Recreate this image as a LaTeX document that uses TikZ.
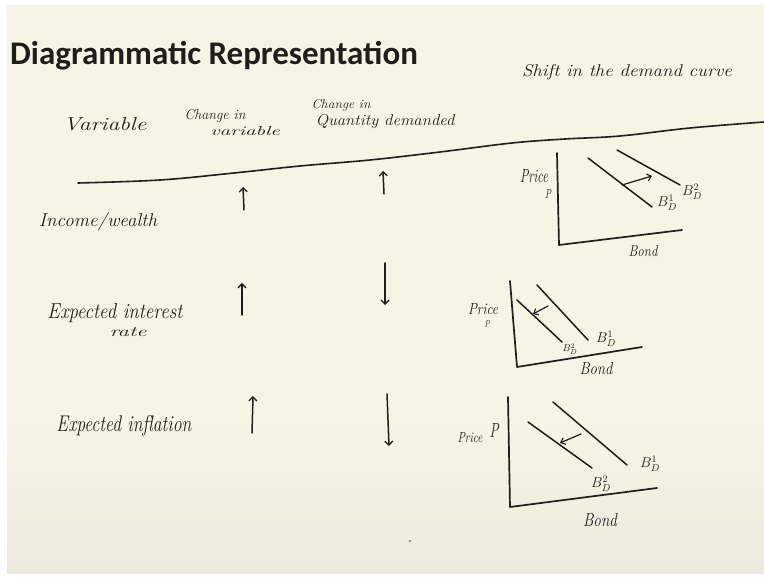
\documentclass[tikz,border=0pt]{standalone}
\usepackage{fontspec}
\usepackage{graphicx}
\newfontfamily\titlefont{Carlito}
\usetikzlibrary{arrows.meta}
\definecolor{paper}{RGB}{246,244,228}
\definecolor{paperlow}{RGB}{236,234,220}
\definecolor{ink}{RGB}{30,30,26}
\newcommand{\hw}[3]{\resizebox{#1pt}{#2pt}{\itshape #3}}
\begin{document}
\begin{tikzpicture}[x=1pt,y=-1pt,
  hand/.style={inner sep=0pt, text=ink, font=\itshape\fontsize{16}{18}\selectfont, anchor=base},
  lbl/.style={inner sep=0pt, text=ink, font=\fontsize{14}{15}\selectfont, anchor=base},
  stroke/.style={draw=ink, line width=1.6pt, line cap=round, line join=round},
  axisline/.style={draw=ink, line width=1.7pt, line cap=round, line join=round},
  curve/.style={draw=ink, line width=1.5pt, line cap=round},
  updown/.style={draw=ink, line width=1.5pt, line cap=round, -{Straight Barb[length=4pt,width=8pt,line width=1.3pt]}},
  shiftarrow/.style={draw=ink, line width=1.2pt, line cap=round, -{Straight Barb[length=4pt,width=7pt,line width=1.1pt]}}]
\useasboundingbox (0,0) rectangle (764,577);
\fill[white] (0,0) rectangle (764,577);
\fill[paper] (7,5) rectangle (764,573);
\shade[top color=paper, bottom color=paperlow] (7,420) rectangle (764,573);

% title
\node[anchor=base west, inner sep=0pt, text=ink, font=\titlefont\bfseries\fontsize{33}{33}\selectfont] (title) at (10,65) {Diagrammatic Representation};

% column headers
\node[hand] (hvar) at (105,131) {\hw{83}{13}{Variable}};
\node[hand] (hchg1) at (215,120) {\hw{61}{10}{Change in}};
\node[hand] (hchg1b) at (245,136) {\hw{70}{9}{variable}};
\node[hand] (hchg2) at (341,109) {\hw{59}{9}{Change in}};
\node[hand] (hchg2b) at (385,126) {\hw{139}{11}{Quantity demanded}};
\node[hand] (hshift) at (627,77) {\hw{210}{12}{Shift in the demand curve}};

% header rule
\draw[stroke] plot[smooth, tension=0.6] coordinates {(78,183) (160,180) (234,173) (300,166) (370,160) (440,152) (512,143) (565,139) (620,136) (690,128) (764,122)};

% row labels
\node[hand] (r1) at (98,227) {\hw{118}{14}{Income/wealth}};
\node[hand] (r2) at (115,319) {\hw{135}{15}{Expected interest}};
\node[hand] (r2b) at (128,337) {\hw{37}{9}{rate}};
\node[hand] (r3) at (124,432) {\hw{135}{16}{Expected inflation}};

% up / down arrows
\coordinate (a1s) at (244,210); \coordinate (a1e) at (243,187);
\coordinate (b1s) at (384,194); \coordinate (b1e) at (383,171);
\coordinate (a2s) at (242,315); \coordinate (a2e) at (242,283);
\coordinate (b2s) at (385,263); \coordinate (b2e) at (385,305);
\coordinate (a3s) at (252,433); \coordinate (a3e) at (253,396);
\coordinate (b3s) at (387,394); \coordinate (b3e) at (389,446);
\draw[updown] (a1s) -- (a1e);
\draw[updown] (b1s) -- (b1e);
\draw[updown] (a2s) -- (a2e);
\draw[updown] (b2s) -- (b2e);
\draw[updown] (a3s) -- (a3e);
\draw[updown] (b3s) -- (b3e);

% graph 1
\coordinate (g1t) at (557,153); \coordinate (g1o) at (559,245); \coordinate (g1x) at (682,230);
\draw[axisline] (g1t) -- (g1o) -- (g1x);
\coordinate (g1a) at (588,158); \coordinate (g1b) at (652,207);
\coordinate (g1c) at (617,150); \coordinate (g1d) at (680,185);
\draw[curve] (g1a) -- (g1b);
\draw[curve] (g1c) -- (g1d);
\coordinate (g1s) at (622,185); \coordinate (g1e) at (652,176);
\draw[shiftarrow] (g1s) -- (g1e);
\node[hand] (g1p) at (534,183) {\hw{28}{13}{Price}};
\node[hand] (g1pp) at (548,199) {\hw{6}{9}{P}};
\node[lbl] (g1l1) at (667,207) {$B_D^1$};
\node[lbl] (g1l2) at (692,196) {$B_D^2$};
\node[hand] (g1q) at (643,257) {\hw{29}{11}{Bond}};

% graph 2
\coordinate (g2t) at (510,281); \coordinate (g2o) at (517,367); \coordinate (g2x) at (642,347);
\draw[axisline] (g2t) -- (g2o) -- (g2x);
\coordinate (g2a) at (517,300); \coordinate (g2b) at (562,342);
\coordinate (g2c) at (537,285); \coordinate (g2d) at (588,340);
\draw[curve] (g2a) -- (g2b);
\draw[curve] (g2c) -- (g2d);
\coordinate (g2s) at (548,306); \coordinate (g2e) at (533,314);
\draw[shiftarrow] (g2s) -- (g2e);
\node[hand] (g2p) at (483,315) {\hw{30}{11}{Price}};
\node[hand] (g2pp) at (487,328) {\hw{5}{7}{P}};
\node[lbl, font=\fontsize{10}{11}\selectfont] (g2l2) at (570,352) {$B_D^2$};
\node[lbl] (g2l1) at (606,343) {$B_D^1$};
\node[hand] (g2q) at (596,375) {\hw{33}{12}{Bond}};

% graph 3
\coordinate (g3t) at (508,397); \coordinate (g3o) at (510,507); \coordinate (g3x) at (657,488);
\draw[axisline] (g3t) -- (g3o) -- (g3x);
\coordinate (g3a) at (528,422); \coordinate (g3b) at (592,468);
\coordinate (g3c) at (553,402); \coordinate (g3d) at (627,465);
\draw[curve] (g3a) -- (g3b);
\draw[curve] (g3c) -- (g3d);
\coordinate (g3s) at (581,434); \coordinate (g3e) at (560,443);
\draw[shiftarrow] (g3s) -- (g3e);
\node[hand] (g3p) at (470,443) {\hw{25}{10}{Price}};
\node[hand] (g3pp) at (494,438) {\hw{9}{14}{P}};
\node[lbl] (g3l2) at (601,488) {$B_D^2$};
\node[lbl] (g3l1) at (650,468) {$B_D^1$};
\node[hand] (g3q) at (600,526) {\hw{34}{13}{Bond}};

% stray speck
\fill[ink!60] (410,541) circle (1.1);
\end{tikzpicture}
\end{document}
